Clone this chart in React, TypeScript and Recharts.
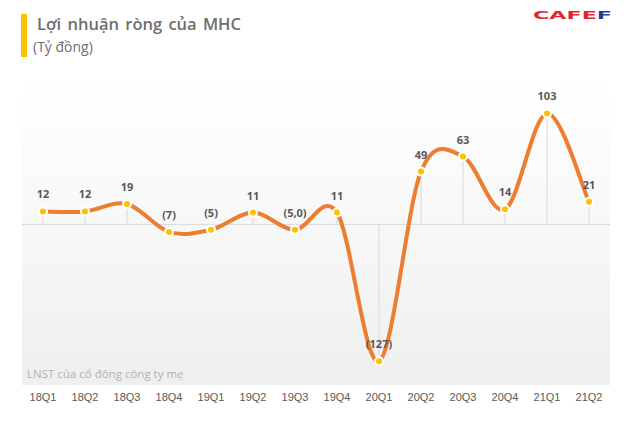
import { LineChart, Line, XAxis, YAxis, CartesianGrid, ReferenceLine, LabelList } from "recharts";

const quarters = ["18Q1", "18Q2", "18Q3", "18Q4", "19Q1", "19Q2", "19Q3", "19Q4", "20Q1", "20Q2", "20Q3", "20Q4", "21Q1", "21Q2"];
const profit = [12, 12, 19, -7, -5, 11, -5, 11, -127, 49, 63, 14, 103, 21];
const profitLabels = ["12", "12", "19", "(7)", "(5)", "11", "(5,0)", "11", "(127)", "49", "63", "14", "103", "21"];

const data = quarters.map((q, i) => ({ q, value: profit[i], label: profitLabels[i] }));

// Excel-style smoothed line (Catmull-Rom through every point)
const excelSmooth = (context: any) => {
  let pts: [number, number][] = [];
  return {
    areaStart() {},
    areaEnd() {},
    lineStart() {
      pts = [];
    },
    lineEnd() {
      const n = pts.length;
      if (!n) return;
      context.moveTo(pts[0][0], pts[0][1]);
      for (let i = 0; i < n - 1; i++) {
        const p0 = pts[Math.max(i - 1, 0)];
        const p1 = pts[i];
        const p2 = pts[i + 1];
        const p3 = pts[Math.min(i + 2, n - 1)];
        context.bezierCurveTo(
          p1[0] + (p2[0] - p0[0]) / 6,
          p1[1] + (p2[1] - p0[1]) / 6,
          p2[0] - (p3[0] - p1[0]) / 6,
          p2[1] - (p3[1] - p1[1]) / 6,
          p2[0],
          p2[1]
        );
      }
    },
    point(x: number, y: number) {
      pts.push([+x, +y]);
    },
  };
};

export default function App() {
  return (
    <div style={{ position: "fixed", left: 0, top: 0, width: 630, height: 428, background: "#fff" }}>
      <LineChart width={630} height={428} data={data} margin={{ top: 80, right: 20, bottom: 0, left: 22 }}>
        <defs>
          <linearGradient id="plotBg" x1="0" y1="0" x2="0" y2="1">
            <stop offset="0%" stopColor="#ffffff" />
            <stop offset="100%" stopColor="#efefef" />
          </linearGradient>
        </defs>
        <CartesianGrid horizontal={false} vertical={false} fill="url(#plotBg)" fillOpacity={1} />
        <XAxis
          dataKey="q"
          height={43}
          axisLine={false}
          tickLine={false}
          padding={{ left: 21, right: 21 }}
          interval={0}
          tick={{ fontSize: 11, fill: "#595959", fontFamily: "Liberation Sans, Arial, sans-serif" }}
        />
        <YAxis hide type="number" domain={[-149, 134]} allowDataOverflow />
        <ReferenceLine y={0} stroke="#d9d9d9" strokeWidth={1} />
        {data.map((d) => (
          <ReferenceLine
            key={d.q}
            segment={[
              { x: d.q, y: 0 },
              { x: d.q, y: d.value },
            ]}
            stroke="#d9d9d9"
            strokeWidth={1}
          />
        ))}
        <Line
          dataKey="value"
          type={excelSmooth as any}
          stroke="#ED7D31"
          strokeWidth={4}
          dot={{ r: 4, fill: "#FFC000", stroke: "#ffffff", strokeWidth: 2 }}
          activeDot={false}
          isAnimationActive={false}
        >
          <LabelList
            dataKey="label"
            position="top"
            offset={13}
            fill="#595959"
            fontSize={11}
            fontWeight="bold"
            fontFamily="Noto Sans, sans-serif"
          />
        </Line>
      </LineChart>
      <svg width={630} height={428} style={{ position: "absolute", left: 0, top: 0, pointerEvents: "none" }}>
        <rect x={21} y={14} width={6} height={43} fill="#FFC000" />
        <text x={37} y={30} fontSize={16.5} fontWeight={600} fill="#6e6e6e" fontFamily="Open Sans, sans-serif" wordSpacing={2}>
          Lợi nhuận ròng của MHC
        </text>
        <text x={33} y={52} fontSize={14} fill="#6e6e6e" fontFamily="Open Sans, sans-serif">
          (Tỷ đồng)
        </text>
        <text x={533} y={19} fontSize={10} fontWeight={900} fontFamily="DejaVu Sans, sans-serif" textLength={79} lengthAdjust="spacingAndGlyphs">
          <tspan fill="#e0262b">CAFE</tspan>
          <tspan fill="#1f3f8f">F</tspan>
        </text>
        <text x={27} y={378} fontSize={11.5} fill="#b0b0b0" fontFamily="Open Sans, sans-serif">
          LNST của cổ đông công ty mẹ
        </text>
      </svg>
    </div>
  );
}
